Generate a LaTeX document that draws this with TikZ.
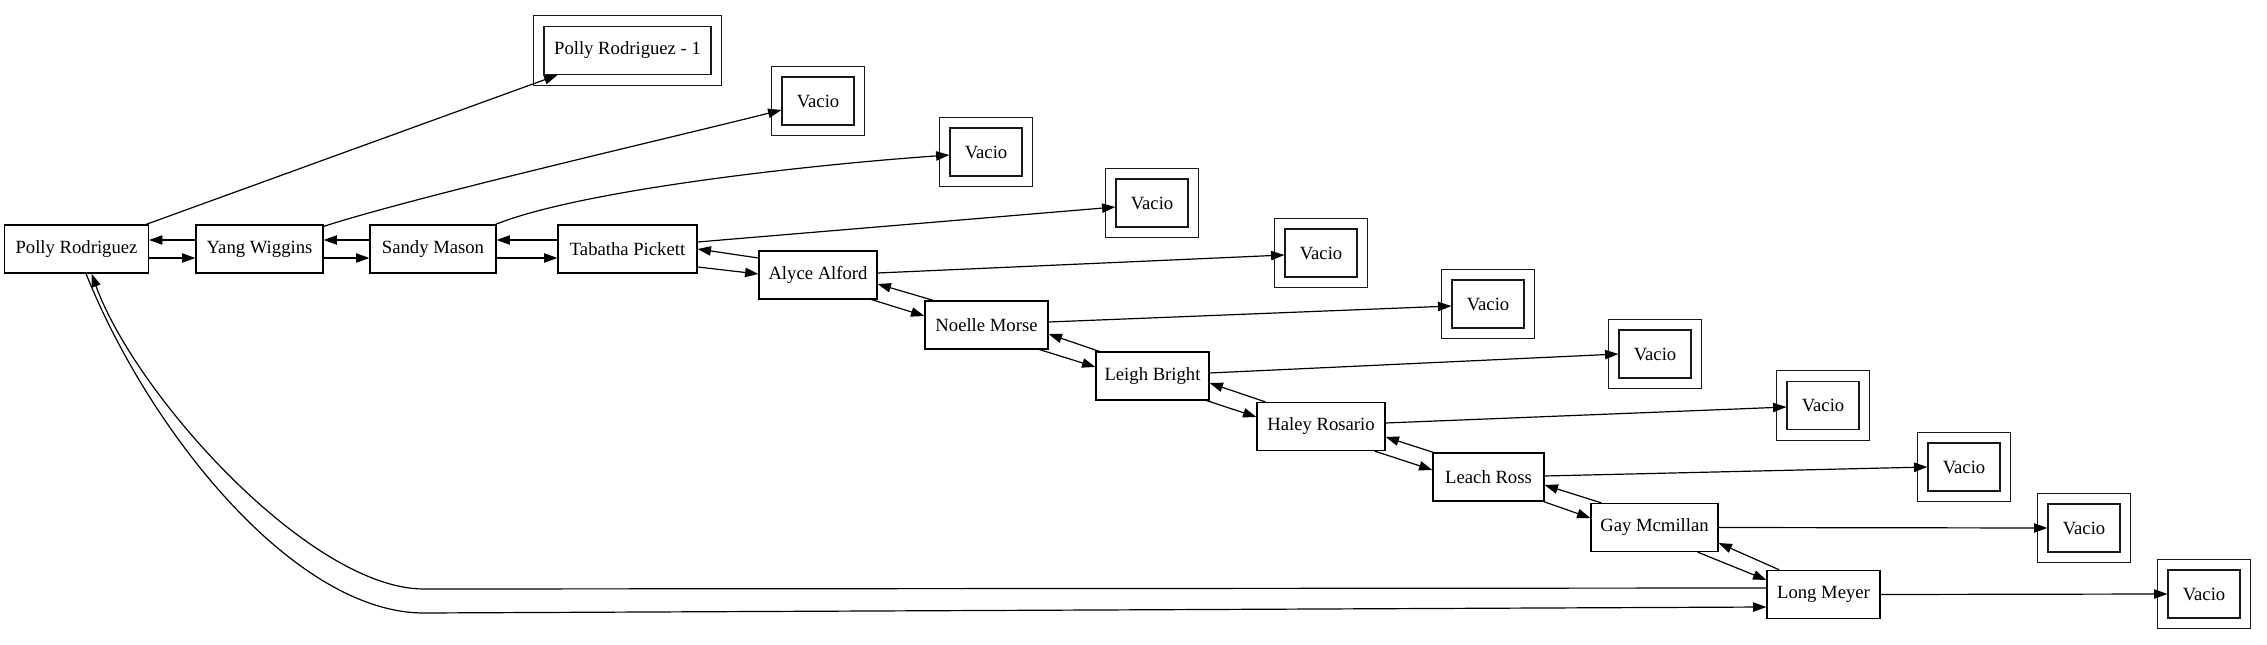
\documentclass[tikz,border=0pt]{standalone}
\usepackage{fontspec}
\setmainfont{Liberation Serif}
\usetikzlibrary{arrows.meta,fit,calc}
\begin{document}
\begin{tikzpicture}[x=0.75pt,y=-0.75pt,
  every node/.style={font=\fontsize{14pt}{16pt}\selectfont},
  person/.style={draw, line width=0.9pt, rectangle, minimum height=36pt, inner sep=0pt},
  vbox/.style={draw=black!90, line width=0.9pt, rectangle, minimum height=36pt, minimum width=54pt, inner sep=0pt},
  vouter/.style={draw=black!90, line width=0.9pt, rectangle, inner sep=7.6pt},
  edge/.style={draw, line width=0.9pt, -{Triangle[length=10pt,width=7pt]}}]

\useasboundingbox (0,0) rectangle (2267,645);

% chain nodes
\node[person, minimum width=108pt]   (P) at (76.5,249)   {Polly Rodriguez};
\node[person, minimum width=95.25pt] (Y) at (259.5,249)  {Yang Wiggins};
\node[person, minimum width=94.5pt]  (S) at (433,249)    {Sandy Mason};
\node[person, minimum width=104.25pt](T) at (627.5,249)  {Tabatha Pickett};
\node[person, minimum width=88.5pt]  (A) at (818,275)    {Alyce Alford};
\node[person, minimum width=92.25pt] (N) at (986.5,325)  {Noelle Morse};
\node[person, minimum width=84.75pt] (L) at (1152.5,376) {Leigh Bright};
\node[person, minimum width=96pt]    (H) at (1321,426.5) {Haley Rosario};
\node[person, minimum width=83.25pt] (R) at (1488.5,477) {Leach Ross};
\node[person, minimum width=95.25pt] (G) at (1654.5,527.5) {Gay Mcmillan};
\node[person, minimum width=84.75pt] (M) at (1823.5,594.5) {Long Meyer};

% double boxes
\node[vbox, minimum width=125.25pt] (V0) at (627.5,50.5) {Polly Rodriguez - 1};
\node[vbox] (V1) at (818,101)   {Vacio};
\node[vbox] (V2) at (986,152)   {Vacio};
\node[vbox] (V3) at (1152,203)  {Vacio};
\node[vbox] (V4) at (1321,253)  {Vacio};
\node[vbox] (V5) at (1488,304)  {Vacio};
\node[vbox] (V6) at (1655,354)  {Vacio};
\node[vbox] (V7) at (1823,405.5){Vacio};
\node[vbox] (V8) at (1964,467)  {Vacio};
\node[vbox] (V9) at (2084,528)  {Vacio};
\node[vbox] (V10) at (2204,594) {Vacio};
\foreach \v in {V0,V1,V2,V3,V4,V5,V6,V7,V8,V9,V10}
  \node[vouter, fit=(\v)] (\v o) {};

% chain edges (forward lower, backward upper)
\draw[edge] ([shift={(0,9)}]P.east) -- ([shift={(0,9)}]Y.west);
\draw[edge] ([shift={(0,-9)}]Y.west) -- ([shift={(0,-9)}]P.east);
\draw[edge] ([shift={(0,9)}]Y.east) -- ([shift={(0,9)}]S.west);
\draw[edge] ([shift={(0,-9)}]S.west) -- ([shift={(0,-9)}]Y.east);
\draw[edge] ([shift={(0,9)}]S.east) -- ([shift={(0,9)}]T.west);
\draw[edge] ([shift={(0,-9)}]T.west) -- ([shift={(0,-9)}]S.east);

\draw[edge] ([shift={(0,18)}]T.east) -- ([shift={(0,-1)}]A.west);
\draw[edge] ([shift={(0,-17)}]A.west) -- ([shift={(0,0)}]T.east);

\draw[edge] ([shift={(-6,0)}]A.south east) -- ([shift={(0,-9)}]N.west);
\draw[edge] ([shift={(9,0)}]N.north west) -- ([shift={(0,9)}]A.east);

\draw[edge] ([shift={(-9,0)}]N.south east) -- ([shift={(0,-9)}]L.west);
\draw[edge] ([shift={(4,0)}]L.north west) -- ([shift={(0,9)}]N.east);

\draw[edge] ([shift={(-3,0)}]L.south east) -- ([shift={(0,-9.5)}]H.west);
\draw[edge] ([shift={(9,0)}]H.north west) -- ([shift={(0,7)}]L.east);

\draw[edge] ([shift={(-11,0)}]H.south east) -- ([shift={(0,-7)}]R.west);
\draw[edge] ([shift={(1,0)}]R.north west) -- ([shift={(0,10.5)}]H.east);

\draw[edge] ([shift={(-1,0)}]R.south east) -- ([shift={(0,-9.5)}]G.west);
\draw[edge] ([shift={(11,0)}]G.north west) -- ([shift={(0,8)}]R.east);

\draw[edge] ([shift={(-21,0)}]G.south east) -- ([shift={(0,-14.5)}]M.west);
\draw[edge] ([shift={(13,0)}]M.north west) -- ([shift={(0,15.5)}]G.east);

% edges to the double boxes
\draw[edge] ([shift={(-3,0)}]P.north east) -- ([shift={(14,0)}]V0.south west);
\draw[edge] ([shift={(0,2)}]Y.north east) .. controls (418,196) and (666,139) .. ([shift={(0,9)}]V1.west);
\draw[edge] ([shift={(-1,0)}]S.north east) .. controls (578,191) and (800,165.5) .. ([shift={(0,3)}]V2.west);
\draw[edge] ([shift={(0,-7)}]T.east) -- ([shift={(0,4)}]V3.west);
\draw[edge] ([shift={(0,-2)}]A.east) -- ([shift={(0,2)}]V4.west);
\draw[edge] ([shift={(0,-3)}]N.east) -- ([shift={(0,2)}]V5.west);
\draw[edge] ([shift={(0,-3)}]L.east) -- (V6.west);
\draw[edge] ([shift={(0,-3.5)}]H.east) -- ([shift={(0,1.5)}]V7.west);
\draw[edge] ([shift={(0,-1)}]R.east) -- (V8.west);
\draw[edge] (G.east) -- (V9.west);
\draw[edge] (M.east) -- (V10.west);

% long edges between Long Meyer and Polly Rodriguez
\draw[edge] ([shift={(0,-6.5)}]M.west) -- (424,589) .. controls (310,589) and (135.5,395) .. ([shift={(15,0)}]P.south);
\draw[edge] ([shift={(9.5,0)}]P.south) .. controls (149,431) and (294,613) .. (424,613) -- ([shift={(0,12.5)}]M.west);
\end{tikzpicture}
\end{document}
